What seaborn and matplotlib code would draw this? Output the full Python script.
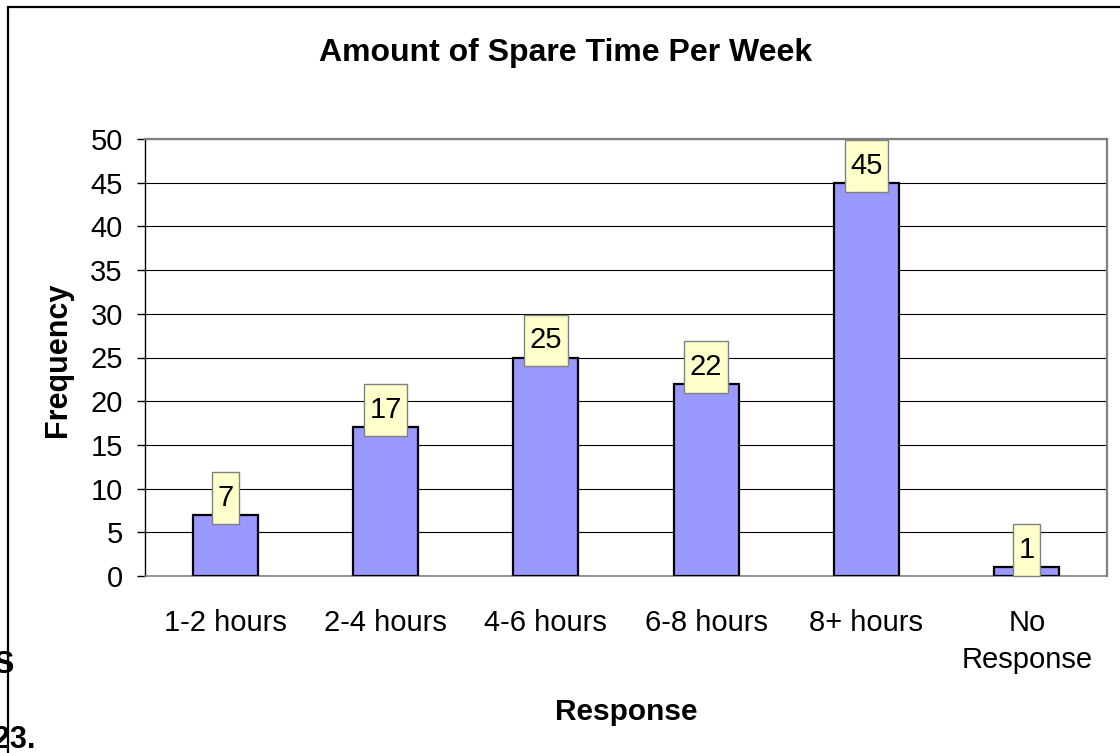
import matplotlib
matplotlib.use("Agg")
import matplotlib.pyplot as plt
import seaborn as sns
import pandas as pd
from matplotlib.patches import Rectangle
from matplotlib.path import Path

categories = ["1-2 hours", "2-4 hours", "4-6 hours", "6-8 hours", "8+ hours", "No\nResponse"]
frequency = [7, 17, 25, 22, 45, 1]
y_ticks = [0, 5, 10, 15, 20, 25, 30, 35, 40, 45, 50]
title = "Amount of Spare Time Per Week"
x_label = "Response"
y_label = "Frequency"

sns.set_style("white")
plt.rcParams["font.family"] = ["Liberation Sans", "DejaVu Sans"]
for k in ["text.color", "axes.labelcolor", "xtick.color", "ytick.color"]:
    plt.rcParams[k] = "black"


class LabelBox:
    """Rectangular box with separate horizontal and vertical padding."""
    def __init__(self, padx=0.19, pady=0.41):
        self.padx = padx
        self.pady = pady

    def __call__(self, x0, y0, width, height, mutation_size):
        px = self.padx * mutation_size
        py = self.pady * mutation_size
        x0, y0 = x0 - px, y0 - py
        x1, y1 = x0 + width + 2 * px, y0 + height + 2 * py
        return Path([(x0, y0), (x1, y0), (x1, y1), (x0, y1), (x0, y0)],
                    closed=True)


W, H = 1120, 753
fig = plt.figure(figsize=(W / 100, H / 100), dpi=100)
fig.patch.set_facecolor("white")
ax = fig.add_axes([145 / W, 1 - 576 / H, (1107 - 145) / W, (576 - 139) / H])

df = pd.DataFrame({"Response": categories, "Frequency": frequency})
sns.barplot(data=df, x="Response", y="Frequency", color="#9999FF", saturation=1,
            width=0.405, edgecolor="black", linewidth=1.6, ax=ax, zorder=3)

ax.set_xlim(-0.5, len(categories) - 0.5)
ax.set_ylim(0, 50)
ax.set_yticks(y_ticks)
ax.set_yticklabels([str(v) for v in y_ticks], fontsize=21)
for v in y_ticks[1:]:
    ax.axhline(v, color="black", lw=0.8, zorder=1)

# x tick marks at category boundaries, labels at centers
ax.set_xticks([i - 0.5 for i in range(len(categories) + 1)])
ax.set_xticklabels([])
ax.set_xticks(range(len(categories)), minor=True)
ax.set_xticklabels(categories, minor=True, fontsize=21, linespacing=1.4)
ax.tick_params(axis="x", which="major", direction="out", length=6, width=1, color="#808080")
ax.tick_params(axis="x", which="minor", length=0, pad=24)
ax.tick_params(axis="y", direction="out", length=6, width=1, color="black", pad=10, left=True)

for s in ["top", "right"]:
    ax.spines[s].set_visible(True)
    ax.spines[s].set_color("#808080")
    ax.spines[s].set_linewidth(1.6)
ax.spines["left"].set_color("black")
ax.spines["left"].set_linewidth(1)
ax.spines["bottom"].set_color("#808080")
ax.spines["bottom"].set_linewidth(1.2)

# data labels
for i, v in enumerate(frequency):
    ax.annotate(str(v), xy=(i, v), xytext=(0, 17), textcoords="offset pixels",
                ha="center", va="center", fontsize=21, zorder=5, color="black",
                bbox=dict(boxstyle=LabelBox(), fc="#FFFFCC", ec="#808080", lw=1))

ax.set_xlabel("")
ax.set_ylabel("")
fig.text(566 / W, 1 - 53 / H, title, ha="center", va="center", fontsize=23, fontweight="bold")
fig.text(58 / W, 1 - 360 / H, y_label, ha="center", va="center", rotation=90,
         fontsize=22, fontweight="bold")
fig.text(626 / W, 1 - 712 / H, x_label, ha="center", va="center", fontsize=21.5, fontweight="bold")

# chart frame (cropped)
fig.add_artist(Rectangle((8 / W, -0.2), 1.5, 1.2 - 7 / H, transform=fig.transFigure,
                         fill=False, ec="black", lw=1.6))

# stray document text visible at the edge
fig.text(13 / W, 1 - 673 / H, "S", ha="right", va="baseline", fontsize=22, fontweight="bold")
fig.text(35 / W, 1 - 748 / H, "23.", ha="right", va="baseline", fontsize=22, fontweight="bold")

fig.savefig("out.png", dpi=100, facecolor="white")
